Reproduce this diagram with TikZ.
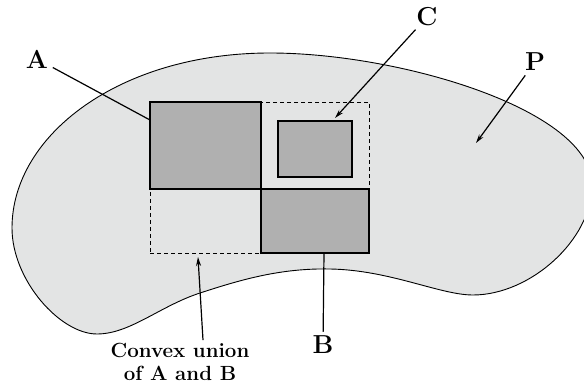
\documentclass[tikz,border=0pt]{standalone}
\usepackage{tikz}
\usetikzlibrary{arrows.meta, positioning}

\definecolor{regionfill}{HTML}{E3E4E4}
\definecolor{boxfill}{HTML}{B0B0B0}

\begin{document}
\begin{tikzpicture}[x=1pt, y=-1pt, >={Stealth[length=9pt,width=5pt]},
    box/.style={rectangle, draw, line width=1.1pt, fill=boxfill, inner sep=0pt},
    hull/.style={rectangle, draw, dash pattern=on 4pt off 3pt, line width=0.9pt, inner sep=0pt},
    tag/.style={font=\fontsize{26}{30}\selectfont\bfseries, inner sep=1pt},
    note/.style={font=\fontsize{20.5}{23}\selectfont\bfseries, align=center, inner sep=0pt},
    pointer/.style={line width=1.2pt}
]
    \useasboundingbox (0,0) rectangle (584,385);

    % Region P
    \draw [fill=regionfill, line width=0.9pt]
        (12,228) .. controls (12,135) and (120,53) .. (270,53)
        .. controls (400,53) and (592,110) .. (592,185)
        .. controls (592,240) and (530,295) .. (473,295)
        .. controls (440,295) and (390,270) .. (330,269)
        .. controls (280,268) and (240,280) .. (200,293)
        .. controls (160,306) and (130,334) .. (97,334)
        .. controls (60,334) and (12,280) .. cycle;

    % Rectangles
    \node [box, minimum width=111pt, minimum height=87pt] (boxA) at (205.5,145.5) {};
    \node [box, minimum width=74pt, minimum height=56pt] (boxC) at (315,149) {};
    \node [box, minimum width=108pt, minimum height=64pt] (boxB) at (315,221) {};
    \node [hull, minimum width=219pt, minimum height=151pt] (union) at (259.5,177.5) {};

    % Labels
    \node [tag] (lblA) at (37,59) {A};
    \node [tag] (lblC) at (427,17) {C};
    \node [tag] (lblP) at (535,62) {P};
    \node [tag] (lblB) at (323,345) {B};
    \node [note] (lblU) at (180,362) {Convex union\\of A and B};

    % Pointer ends
    \coordinate (endA) at (150,120);
    \coordinate (endC) at (335,118);
    \coordinate (endP) at (476,143);
    \coordinate (endU) at (198,257);
    \coordinate (startB) at (324,253);

    % Pointers
    \draw [pointer, shorten <=4pt] (lblA) -- (endA);
    \draw [pointer, ->, shorten <=3pt] (lblC) -- (endC);
    \draw [pointer, ->, shorten <=4pt] (lblP) -- (endP);
    \draw [pointer, ->] (lblU.north -| 203,0) ++(0,-3) -- (endU);
    \draw [pointer, shorten >=3pt] (startB) -- (lblB);
\end{tikzpicture}
\end{document}
